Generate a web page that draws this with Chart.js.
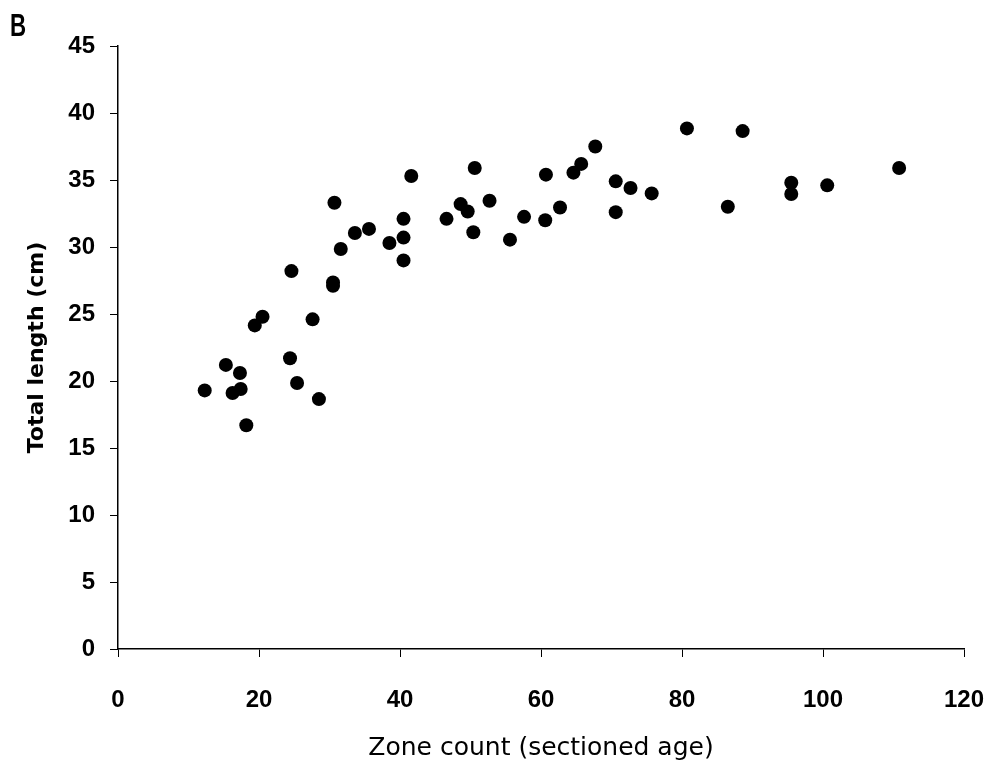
<!DOCTYPE html>
<html>
<head>
<meta charset="utf-8">
<script src="https://cdn.jsdelivr.net/npm/chart.js@4/dist/chart.umd.min.js"></script>
<style>
  html, body { margin: 0; padding: 0; background: #fff; }
  #wrap { width: 992px; height: 769px; position: relative; }
</style>
</head>
<body>
<div id="wrap"><canvas id="c" width="992" height="769"></canvas></div>
<script>
// Zone count (sectioned age) of each fish
const zoneCount = [
  12.3, 15.3, 16.25, 17.3, 17.4, 18.2, 19.4, 20.5, 24.4, 24.6,
  25.4, 27.6, 28.5, 30.5, 30.5, 30.7, 31.6, 33.6, 35.6, 38.5,
  40.5, 40.5, 40.5, 41.6, 46.6, 48.6, 49.6, 50.6, 50.4, 52.7,
  55.6, 57.6, 60.6, 60.7, 62.7, 64.6, 65.7, 67.7, 70.6, 70.6,
  72.7, 75.7, 80.7, 86.5, 88.6, 95.5, 95.5, 100.6, 110.8
];
// Total length (cm) of the same fish
const totalLength = [
  19.3, 21.2, 19.1, 20.6, 19.4, 16.7, 24.15, 24.8, 21.7, 28.2,
  19.85, 24.6, 18.65, 27.35, 27.1, 33.3, 29.85, 31.05, 31.35, 30.3,
  32.1, 30.7, 29.0, 35.3, 32.1, 33.2, 32.65, 35.9, 31.1, 33.45,
  30.55, 32.25, 32.0, 35.4, 32.95, 35.55, 36.2, 37.5, 34.9, 32.6,
  34.4, 34.0, 38.85, 33.0, 38.65, 34.8, 33.95, 34.6, 35.9
];

const xTitle = 'Zone count (sectioned age)';
const yTitle = 'Total length (cm)';
const panelLabel = 'B';

const points = zoneCount.map((x, i) => ({ x: x, y: totalLength[i] }));

// Panel letter in the top-left corner (condensed bold)
const panelLabelPlugin = {
  id: 'panelLabel',
  afterDraw(chart) {
    const ctx = chart.ctx;
    ctx.save();
    ctx.fillStyle = '#000';
    ctx.font = 'bold 31px "Liberation Sans", Arial, sans-serif';
    ctx.textAlign = 'left';
    ctx.textBaseline = 'alphabetic';
    ctx.translate(10, 36);
    ctx.scale(0.72, 1);
    ctx.fillText(panelLabel, 0, 0);
    ctx.restore();
  }
};

const tickFont = { family: '"Liberation Sans", Arial, sans-serif', size: 24, weight: 'bold' };

new Chart(document.getElementById('c'), {
  type: 'scatter',
  data: {
    datasets: [{
      data: points,
      backgroundColor: '#000',
      borderColor: '#000',
      borderWidth: 0,
      pointRadius: 7,
      pointHoverRadius: 7
    }]
  },
  options: {
    responsive: false,
    animation: false,
    events: [],
    layout: { padding: { left: 0, right: 28, top: 46, bottom: 0 } },
    plugins: {
      legend: { display: false },
      tooltip: { enabled: false }
    },
    scales: {
      x: {
        type: 'linear',
        min: 0, max: 120,
        afterFit(scale) {
          scale.height = 120;
          scale.paddingLeft = 0;
          scale.paddingRight = 0;
        },
        border: { display: true, color: '#000', width: 1.5 },
        grid: { drawOnChartArea: false, drawTicks: true, tickLength: 8, color: '#000', lineWidth: 1 },
        ticks: { stepSize: 20, color: '#000', font: tickFont, padding: 29, maxRotation: 0 },
        title: {
          display: true, text: xTitle, color: '#000',
          font: { family: '"DejaVu Sans", sans-serif', size: 25, weight: 'normal' },
          padding: { top: 0, bottom: 6 }
        }
      },
      y: {
        type: 'linear',
        min: 0, max: 45,
        afterFit(scale) {
          scale.width = 118;
          scale.paddingTop = 0;
          scale.paddingBottom = 0;
        },
        border: { display: true, color: '#000', width: 1.5 },
        grid: { drawOnChartArea: false, drawTicks: true, tickLength: 8, color: '#000', lineWidth: 1 },
        ticks: { stepSize: 5, color: '#000', font: tickFont, padding: 15 },
        title: {
          display: true, text: yTitle, color: '#000',
          font: { family: '"DejaVu Sans", sans-serif', size: 22, weight: 'bold' },
          padding: { top: 24, bottom: 0 }
        }
      }
    }
  },
  plugins: [panelLabelPlugin]
});
</script>
</body>
</html>
